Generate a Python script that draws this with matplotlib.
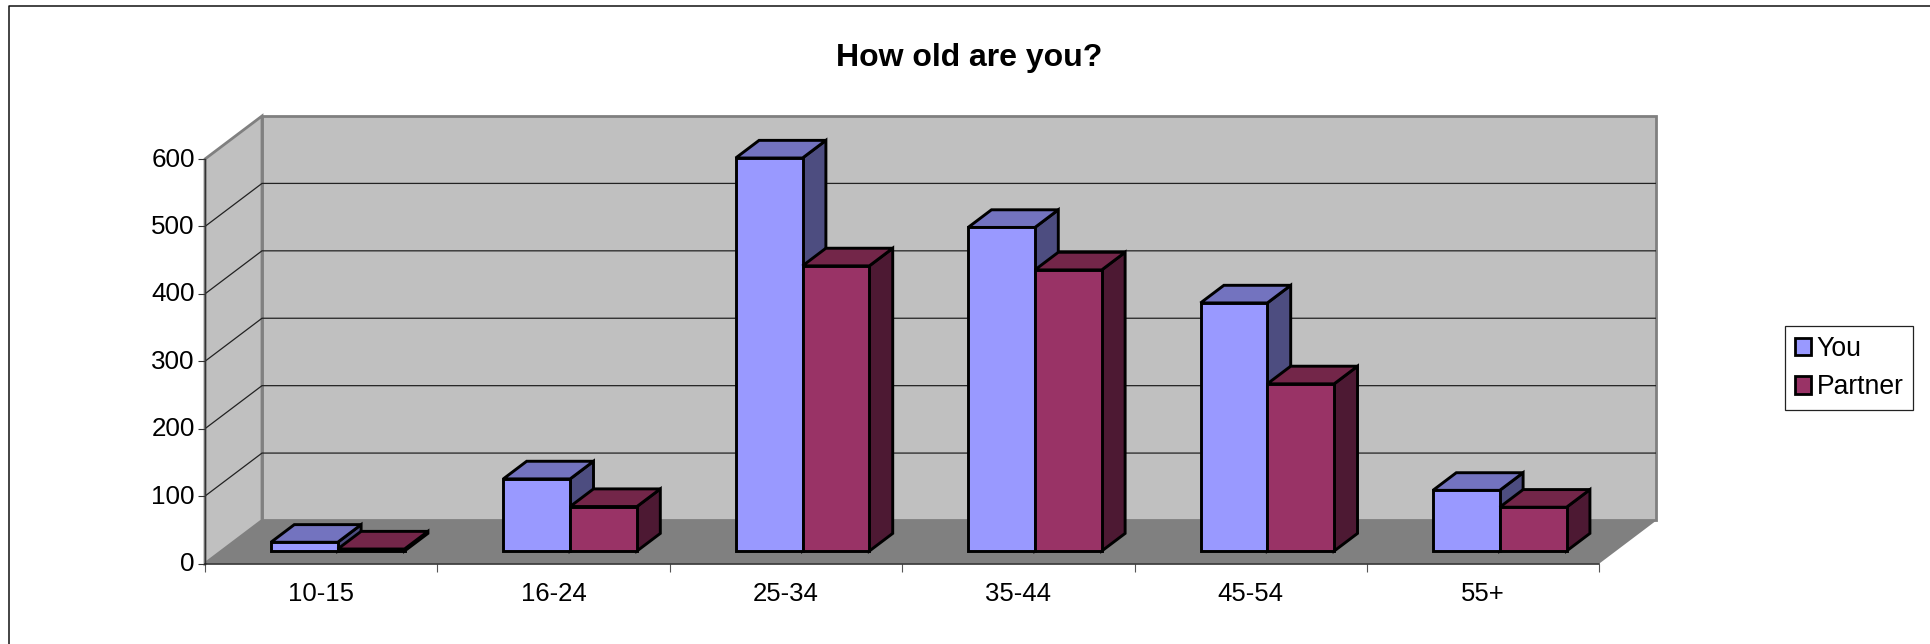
# How old are you? - fake 3D column chart
import numpy as np
import matplotlib
matplotlib.use("Agg")
import matplotlib.pyplot as plt
from matplotlib.patches import Polygon, Patch
from matplotlib.lines import Line2D
from matplotlib.transforms import ScaledTranslation

plt.rcParams['font.family'] = ['Liberation Sans', 'DejaVu Sans']

# data
categories = ["10-15", "16-24", "25-34", "35-44", "45-54", "55+"]
you = [13, 107, 583, 480, 368, 90]
partner = [3, 66, 423, 417, 248, 65]
yticks = [0, 100, 200, 300, 400, 500, 600]

# colours: front, top, side
you_cols = ["#9999ff", "#7373bf", "#4d4d80"]
partner_cols = ["#993366", "#732649", "#4d1933"]

W, H = 1930, 644
fig = plt.figure(figsize=(W / 100, H / 100), dpi=100)

# axes box in pixels: front left/bottom to back right/top
left, right, bottom, top = 205, 1656.4, 563.5, 116
ax = fig.add_axes([left / W, 1 - bottom / H, (right - left) / W, (bottom - top) / H])

# oblique depth of the box, in data units
px_x = 232.4          # pixels per category
px_y = 0.674          # pixels per value unit
depth_x = 57.0 / px_x
depth_y = 43.0 / px_y
ax.set_xlim(0, 6 + depth_x)
ax.set_ylim(0, 600 + depth_y)
ax.patch.set_visible(False)


def proj(x, y, d):
    # d is depth from 0 (front) to 1 (back wall)
    return (x + d * depth_x, y + d * depth_y)


def face(pts, fc, ec="none", lw=0, z=1):
    ax.add_patch(Polygon(pts, closed=True, facecolor=fc, edgecolor=ec, linewidth=lw,
                         zorder=z, joinstyle="miter", clip_on=False))


wall_grey = "#c0c0c0"
floor_grey = "#808080"

# back wall, side wall, floor
face([proj(0, 0, 1), proj(6, 0, 1), proj(6, 600, 1), proj(0, 600, 1)], wall_grey, floor_grey, 2.0, 1)
face([proj(0, 0, 0), proj(0, 0, 1), proj(0, 600, 1), proj(0, 600, 0)], wall_grey, floor_grey, 2.0, 1)
face([proj(0, 0, 0), proj(6, 0, 0), proj(6, 0, 1), proj(0, 0, 1)], floor_grey, z=2)

# gridlines, across the side wall and back wall
for v in yticks[1:-1]:
    xs = [proj(0, v, 0)[0], proj(0, v, 1)[0], proj(6, v, 1)[0]]
    ys = [proj(0, v, 0)[1], proj(0, v, 1)[1], proj(6, v, 1)[1]]
    ax.plot(xs, ys, color="#222222", lw=0.9, zorder=3, solid_joinstyle="miter")

# bars
d0, d1 = 0.29, 0.70
bar_w = 0.2875
edge = "#000000"
lw_bar = 2.1


def bar3d(x0, x1, v, cols, z):
    # v is measured from the bar's own base, as a wall tick would be
    front = [proj(x0, 0, d0), proj(x1, 0, d0), proj(x1, v, d0), proj(x0, v, d0)]
    top_f = [proj(x0, v, d0), proj(x1, v, d0), proj(x1, v, d1), proj(x0, v, d1)]
    side = [proj(x1, 0, d0), proj(x1, 0, d1), proj(x1, v, d1), proj(x1, v, d0)]
    face(side, cols[2], edge, lw_bar, z)
    face(top_f, cols[1], edge, lw_bar, z)
    face(front, cols[0], edge, lw_bar, z)


for i in range(len(categories)):
    x_mid = i + 0.5  # the pair meets at the category centre before depth shift
    bar3d(x_mid - bar_w, x_mid, you[i], you_cols, 5 + i * 2)
    bar3d(x_mid, x_mid + bar_w, partner[i], partner_cols, 6 + i * 2)

# axes and ticks
for s in ["top", "right"]:
    ax.spines[s].set_visible(False)
ax.spines["left"].set_bounds(0, 600)
ax.spines["left"].set_color("#333333")
ax.spines["left"].set_linewidth(1.0)
ax.spines["left"].set_zorder(4)
ax.spines["bottom"].set_bounds(0, 6)
ax.spines["bottom"].set_color("#222222")
ax.spines["bottom"].set_linewidth(1.1)
ax.spines["bottom"].set_zorder(4)

ax.set_yticks(yticks)
ax.set_yticklabels([str(v) for v in yticks], fontsize=18.7, color="#000000")
ax.tick_params(axis="y", length=5, width=0.8, color="#333333", pad=2.3)
# nudge the value labels up a touch
for lab in ax.get_yticklabels():
    lab.set_transform(lab.get_transform() + ScaledTranslation(0, 1.4 / 72, fig.dpi_scale_trans))
ax.set_xticks(range(7))
ax.set_xticklabels([""] * 7)
ax.tick_params(axis="x", which="major", length=5.5, width=0.8, color="#555555")
ax.set_xticks(np.arange(6) + 0.5, minor=True)
ax.set_xticklabels(categories, minor=True, fontsize=18.5, color="#000000")
ax.tick_params(axis="x", which="minor", length=0, pad=13.5)

# title
fig.text(969.5 / W, 1 - 66 / H, "How old are you?", fontsize=23, fontweight="bold",
         ha="center", va="baseline", color="#000000")

# legend
handles = [Patch(facecolor=you_cols[0], edgecolor="black", linewidth=2.0, label="You"),
           Patch(facecolor=partner_cols[0], edgecolor="black", linewidth=2.0, label="Partner")]
leg = fig.legend(handles=handles, loc="upper left",
                 bbox_to_anchor=(1785 / W, 1 - 326 / H), fontsize=19.1,
                 fancybox=False, framealpha=1, edgecolor="#222222",
                 handlelength=0.62, handleheight=0.62, handletextpad=0.22,
                 labelspacing=0.48, borderpad=0.36, borderaxespad=0)
leg.get_frame().set_linewidth(0.9)

# outer chart border, open to the right and bottom
fig.add_artist(Line2D([8.5 / W, 8.5 / W, 1], [0, 1 - 5.5 / H, 1 - 5.5 / H],
                      transform=fig.transFigure, color="#111111", lw=1.1))

fig.savefig("out.png", dpi=100, facecolor="white")
